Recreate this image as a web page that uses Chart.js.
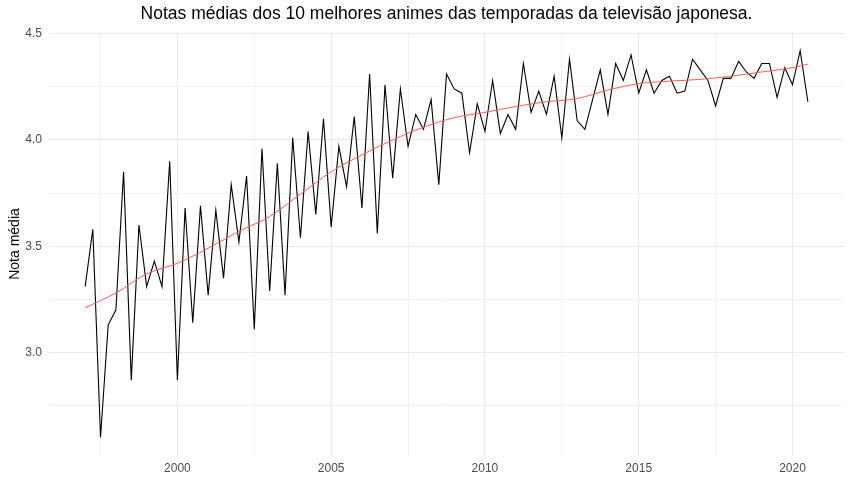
<!DOCTYPE html>
<html>
<head>
<meta charset="utf-8">
<script src="https://cdn.jsdelivr.net/npm/chart.js@4"></script>
<style>
  html, body { margin: 0; padding: 0; background: #fff; }
  #wrap { width: 850px; height: 500px; }
</style>
</head>
<body>
<div id="wrap"><canvas id="myChart" width="850" height="500"></canvas></div>
<script>
// temporadas (ano + trimestre)
const temporadas = [
  1997, 1997.25, 1997.5, 1997.75, 1998, 1998.25, 1998.5, 1998.75,
  1999, 1999.25, 1999.5, 1999.75, 2000, 2000.25, 2000.5, 2000.75,
  2001, 2001.25, 2001.5, 2001.75, 2002, 2002.25, 2002.5, 2002.75,
  2003, 2003.25, 2003.5, 2003.75, 2004, 2004.25, 2004.5, 2004.75,
  2005, 2005.25, 2005.5, 2005.75, 2006, 2006.25, 2006.5, 2006.75,
  2007, 2007.25, 2007.5, 2007.75, 2008, 2008.25, 2008.5, 2008.75,
  2009, 2009.25, 2009.5, 2009.75, 2010, 2010.25, 2010.5, 2010.75,
  2011, 2011.25, 2011.5, 2011.75, 2012, 2012.25, 2012.5, 2012.75,
  2013, 2013.25, 2013.5, 2013.75, 2014, 2014.25, 2014.5, 2014.75,
  2015, 2015.25, 2015.5, 2015.75, 2016, 2016.25, 2016.5, 2016.75,
  2017, 2017.25, 2017.5, 2017.75, 2018, 2018.25, 2018.5, 2018.75,
  2019, 2019.25, 2019.5, 2019.75, 2020, 2020.25, 2020.5
];

// nota media dos 10 melhores de cada temporada
const notas = [
  3.31, 3.58, 2.60, 3.13, 3.20, 3.85, 2.87, 3.60,
  3.31, 3.43, 3.31, 3.90, 2.87, 3.68, 3.14, 3.69,
  3.27, 3.67, 3.35, 3.79, 3.52, 3.83, 3.11, 3.96,
  3.29, 3.89, 3.27, 4.01, 3.54, 4.04, 3.65, 4.10,
  3.59, 3.97, 3.78, 4.11, 3.68, 4.31, 3.56, 4.26,
  3.82, 4.24, 3.97, 4.12, 4.05, 4.19, 3.79, 4.31,
  4.24, 4.22, 3.94, 4.17, 4.04, 4.28, 4.03, 4.12,
  4.05, 4.36, 4.13, 4.23, 4.12, 4.30, 4.01, 4.38,
  4.09, 4.05, 4.19, 4.33, 4.12, 4.36, 4.28, 4.40,
  4.22, 4.33, 4.22, 4.28, 4.30, 4.22, 4.23, 4.38,
  4.33, 4.28, 4.16, 4.29, 4.29, 4.37, 4.32, 4.29,
  4.36, 4.36, 4.20, 4.34, 4.26, 4.42, 4.18
];

// curva suavizada (um ponto por ano)
const suaveAnos = [
  1997, 1998, 1999, 2000, 2001, 2002, 2003, 2004, 2005, 2006, 2007, 2008,
  2009, 2010, 2011, 2012, 2013, 2014, 2015, 2016, 2017, 2018, 2019, 2020, 2020.5
];
const suaveNotas = [
  3.21, 3.28, 3.37, 3.42, 3.49, 3.57, 3.64, 3.745, 3.85, 3.93, 4.00, 4.06,
  4.105, 4.13, 4.157, 4.18, 4.195, 4.235, 4.265, 4.277, 4.285, 4.30, 4.32, 4.34, 4.357
];

const xTicks = [1997.5, 2000, 2002.5, 2005, 2007.5, 2010, 2012.5, 2015, 2017.5, 2020];
const yTicks = [2.75, 3.0, 3.25, 3.5, 3.75, 4.0, 4.25, 4.5];

const serie = temporadas.map((t, i) => ({x: t, y: notas[i]}));
const suave = suaveAnos.map((t, i) => ({x: t, y: suaveNotas[i]}));

const cinza = '#4D4D4D';
const fonte = 'Liberation Sans, Arial, sans-serif';

var ctx = document.getElementById('myChart').getContext('2d');
const chart = new Chart(ctx, {
  type: 'line',
  data: {
    datasets: [
      {
        label: 'suave',
        data: suave,
        borderColor: '#FF5A5A',
        borderWidth: 1,
        pointRadius: 0,
        cubicInterpolationMode: 'monotone',
        fill: false
      },
      {
        label: 'nota',
        data: serie,
        borderColor: '#000000',
        borderWidth: 1.1,
        pointRadius: 0,
        tension: 0,
        fill: false
      }
    ]
  },
  options: {
    responsive: false,
    animation: false,
    layout: { padding: { left: 0, right: 6, top: 0, bottom: 0 } },
    plugins: {
      legend: { display: false },
      tooltip: { enabled: false },
      title: {
        display: true,
        fullSize: false,   // centra o titulo sobre o painel, como no ggplot
        text: 'Notas médias dos 10 melhores animes das temporadas da televisão japonesa.',
        color: '#000',
        font: { family: fonte, size: 17.5, weight: 'normal' },
        padding: { top: 4, bottom: 7 }
      }
    },
    scales: {
      x: {
        type: 'linear',
        min: 1995.825,
        max: 2021.675,
        border: { display: false },
        grid: {
          drawTicks: false,
          color: ctx => (ctx.tick && ctx.tick.value % 5 === 0) ? '#EBEBEB' : '#F2F2F2',
          lineWidth: 1
        },
        afterBuildTicks: scale => { scale.ticks = xTicks.map(v => ({value: v})); },
        afterFit: scale => { scale.height = 44; },
        ticks: {
          padding: 5,
          color: cinza,
          font: { family: fonte, size: 12 },
          maxRotation: 0,
          autoSkip: false,
          callback: v => (v % 5 === 0) ? String(v) : ''
        }
      },
      y: {
        type: 'linear',
        min: 2.513,
        max: 4.508,
        border: { display: false },
        grid: {
          drawTicks: false,
          color: ctx => (ctx.tick && ctx.tick.value % 0.5 === 0) ? '#EBEBEB' : '#F2F2F2',
          lineWidth: 1
        },
        afterBuildTicks: scale => { scale.ticks = yTicks.map(v => ({value: v})); },
        afterFit: scale => { scale.width = 49; },
        title: {
          display: true,
          text: 'Nota média',
          color: '#000',
          font: { family: fonte, size: 14 },
          padding: { top: 7, bottom: 0 }
        },
        ticks: {
          padding: 7,
          color: cinza,
          font: { family: fonte, size: 12 },
          autoSkip: false,
          callback: v => (v % 0.5 === 0) ? v.toFixed(1) : ''
        }
      }
    }
  }
});
</script>
</body>
</html>
